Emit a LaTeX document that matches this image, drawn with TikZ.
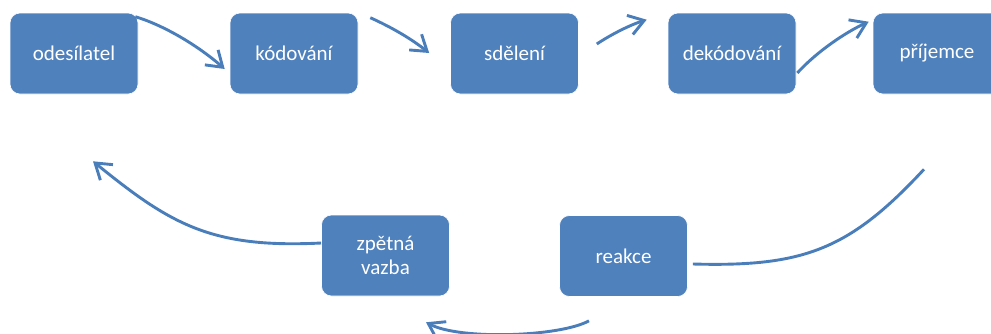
\documentclass[tikz,border=0pt]{standalone}
\usepackage{fontspec}
\setmainfont{Carlito}
\usetikzlibrary{arrows.meta,calc}
\definecolor{boxblue}{HTML}{4F81BD}
\definecolor{arrowblue}{HTML}{4A7EBB}
\tikzset{
  stagebox/.style={rectangle, rounded corners=10pt, fill=boxblue, draw=white, line width=0.6pt,
    minimum width=128pt, minimum height=81pt, inner sep=0pt, text=white,
    font=\fontsize{21}{24}\selectfont, align=center},
  flowarrow/.style={draw=arrowblue, line width=2.9pt, -{Straight Barb[length=15pt,width=20pt]}},
  flowline/.style={draw=arrowblue, line width=2.9pt}
}
\begin{document}
\begin{tikzpicture}[x=1pt,y=-1pt]
\useasboundingbox (0,0) rectangle (991,333);
\node[stagebox] (ode) at (74,53.5) {odesílatel};
\node[stagebox] (kod) at (294,53.5) {kódování};
\node[stagebox] (sde) at (514.5,53.5) {sdělení};
\node[stagebox] (dek) at (732,53.5) {dekódování};
\node[stagebox] (pri) at (937,53.5) {příjemce};
\node[stagebox] (zpv) at (385.5,255.5) {zpětná\\vazba};
\node[stagebox] (rea) at (623.5,256) {reakce};

\draw[flowarrow] ($(ode.north east)+(-3,4)$) .. controls +(30,9) and +(-25,-22) .. ($(kod.west)+(-5,15.5)$);
\draw[flowarrow] ($(kod.north east)+(12,5)$) .. controls +(20,9) and +(-19,-15) .. ($(sde.west)+(-21,-0.5)$);
\draw[flowarrow] ($(sde.east)+(18,-9.5)$) .. controls +(15,-10) and +(-16,5) .. ($(dek.north west)+(-21,7)$);
\draw[flowarrow] ($(dek.east)+(1,19.5)$) .. controls +(20,-22) and +(-22,10) .. ($(pri.north west)+(-4,9)$);
\draw[flowline] ($(pri.south)+(-13,75)$) .. controls +(-75,81) and +(110,3) .. ($(rea.east)+(5,8)$);
\draw[flowarrow] ($(rea.south)+(-34.5,24)$) .. controls +(-29,16) and +(34,18) .. ($(zpv.south)+(40.5,26)$);
\draw[flowarrow] ($(zpv.west)+(0,-12.5)$) .. controls +(-110,5.5) and +(77.5,63) .. ($(ode.south)+(19,67)$);
\end{tikzpicture}
\end{document}
